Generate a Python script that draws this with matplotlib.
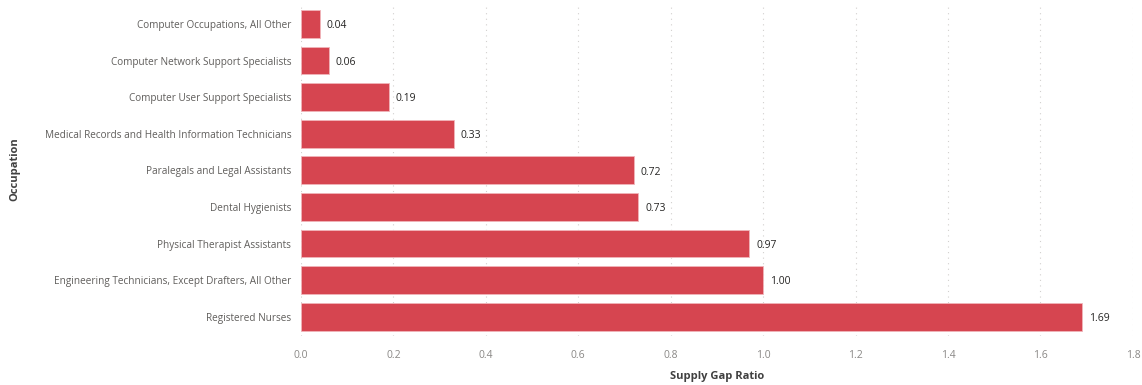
import matplotlib.pyplot as plt

occupations = [
    'Registered Nurses',
    'Engineering Technicians, Except Drafters, All Other',
    'Physical Therapist Assistants',
    'Dental Hygienists',
    'Paralegals and Legal Assistants',
    'Medical Records and Health Information Technicians',
    'Computer User Support Specialists',
    'Computer Network Support Specialists',
    'Computer Occupations, All Other',
]
gap_ratio = [1.69, 1.00, 0.97, 0.73, 0.72, 0.33, 0.19, 0.06, 0.04]
x_ticks = [0.0, 0.2, 0.4, 0.6, 0.8, 1.0, 1.2, 1.4, 1.6, 1.8]

plt.rcParams['font.family'] = ['Open Sans', 'DejaVu Sans']

fig = plt.figure(figsize=(11.42, 3.85), dpi=100)
ax = fig.add_axes([0.2636, 0.127, 0.7284, 0.865])

bar_color = '#D64550'
ax.barh(range(len(occupations)), gap_ratio, height=0.76, color=bar_color,
        edgecolor='#F0B5BA', linewidth=0.6, zorder=3)

for i, v in enumerate(gap_ratio):
  ax.text(v + 0.015, i - 0.05, f'{v:.2f}', va='center', ha='left',
          fontsize=7.5, color='#252423')

ax.set_yticks(range(len(occupations)))
ax.set_yticklabels(occupations, fontsize=7.2, color='#605E5C')
ax.set_xticks(x_ticks)
ax.set_xticklabels([f'{t:.1f}' for t in x_ticks], fontsize=7.5, color='#8A8886')
ax.set_xlim(0, 1.8)
ax.set_ylim(-0.53, 8.57)

ax.grid(axis='x', linestyle=(0, (1, 4)), color='#D2D0CE', linewidth=0.8, zorder=0)
for s in ax.spines.values():
  s.set_visible(False)
ax.tick_params(axis='both', length=0)
ax.tick_params(axis='y', pad=7)
ax.tick_params(axis='x', pad=10)

ax.set_xlabel('Supply Gap Ratio', fontsize=8, fontweight='bold', color='#404040', labelpad=7)
ax.set_ylabel('Occupation', fontsize=8, fontweight='bold', color='#404040')
ax.yaxis.set_label_coords(-0.337, 0.5)

fig.savefig('out.png', dpi=100)
